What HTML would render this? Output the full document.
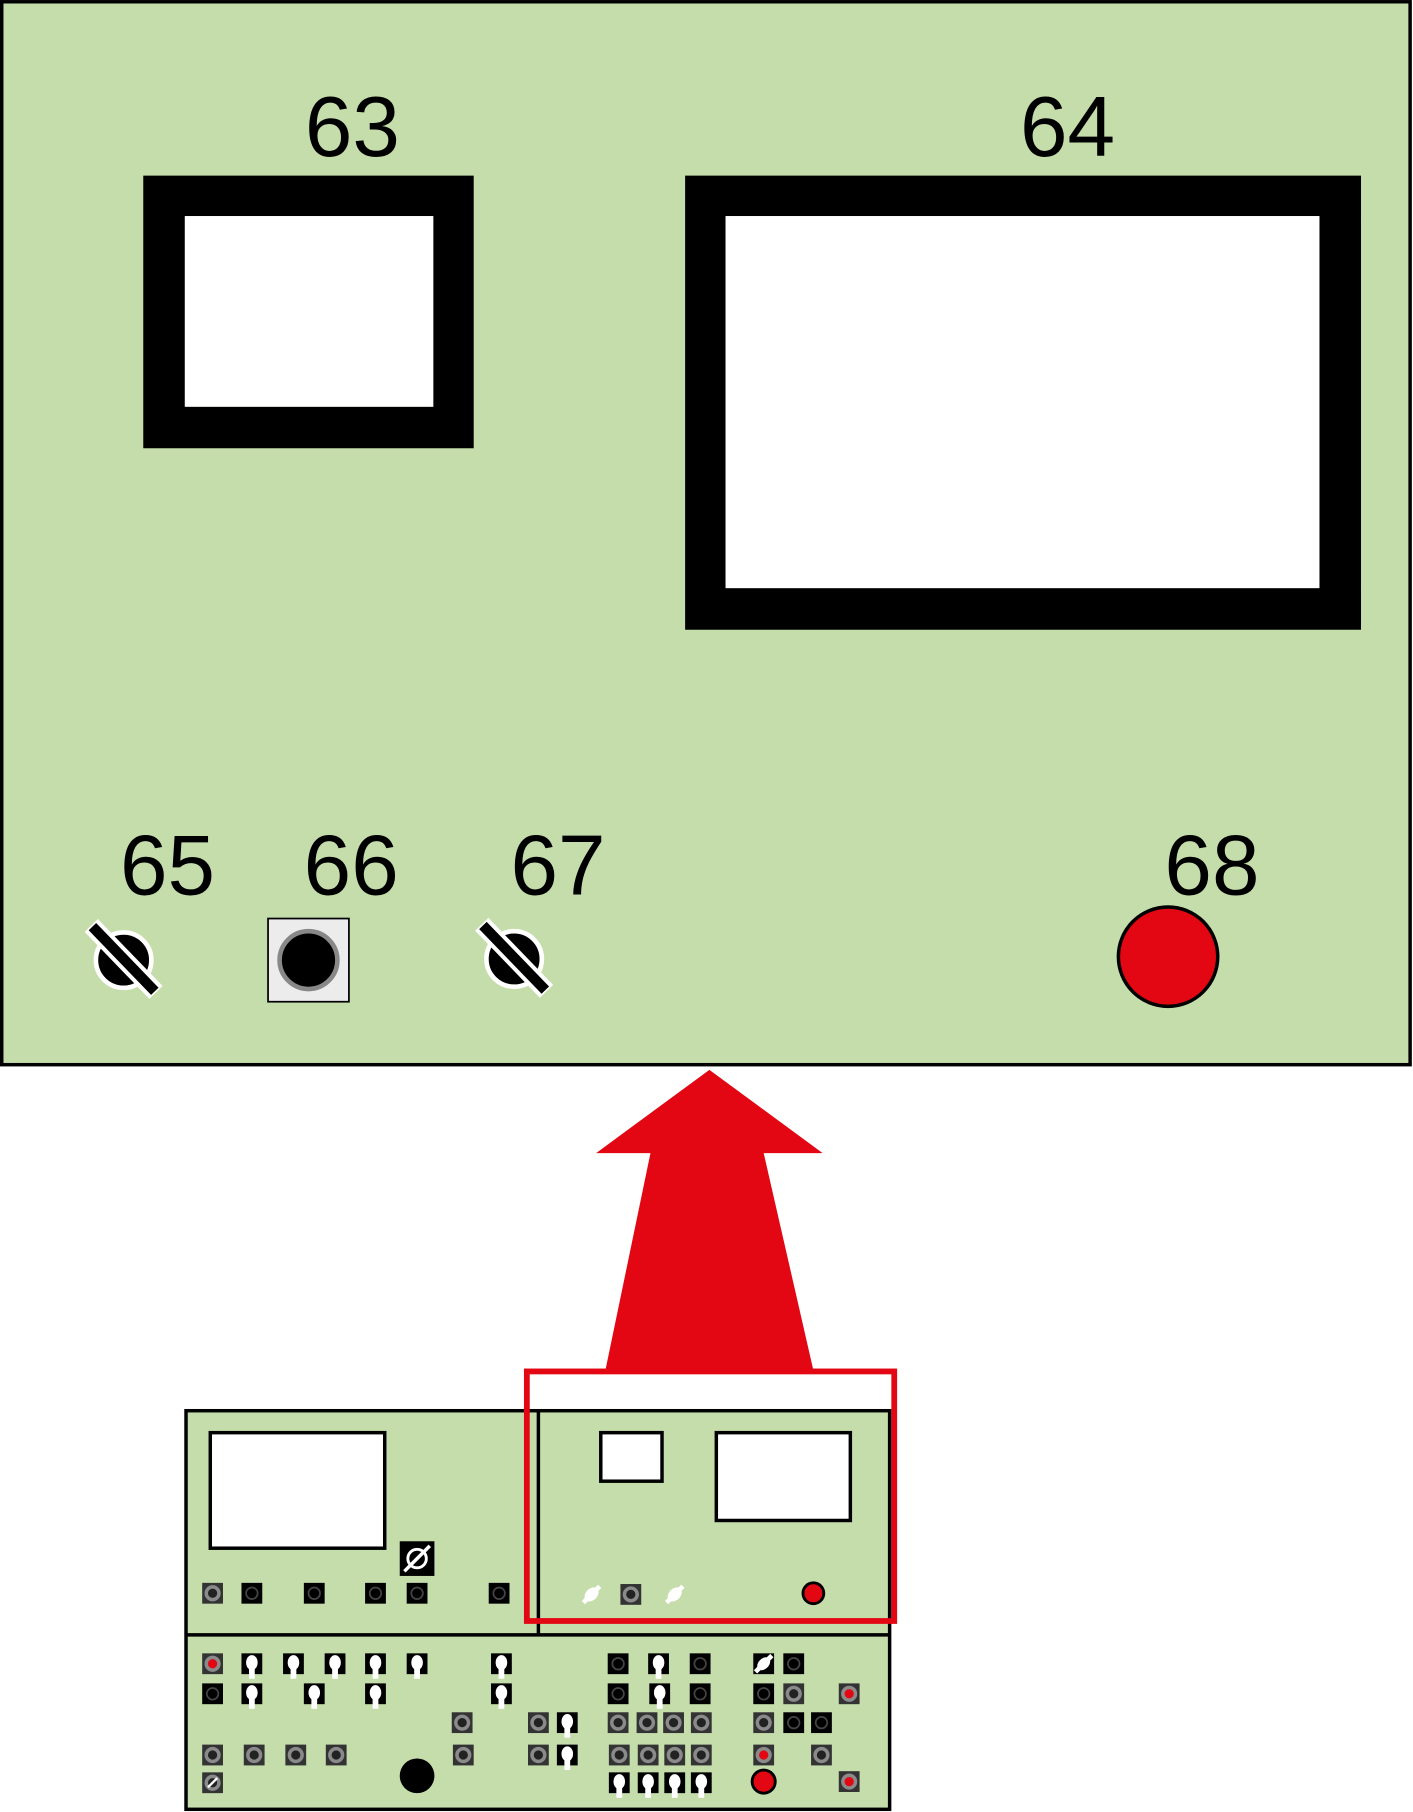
<!DOCTYPE html>
<html><head><meta charset="utf-8"><style>html,body{margin:0;padding:0;background:#fff}svg{display:block}</style></head>
<body>
<svg width="1413" height="1812" viewBox="0 0 1223 1568.3" xmlns="http://www.w3.org/2000/svg">
<defs>
<g id="G"><rect x="-9" y="-9" width="18" height="18" fill="#333"/><circle r="5.5" fill="#222" stroke="#8a8a8a" stroke-width="3"/></g>
<g id="R"><rect x="-9" y="-9" width="18" height="18" fill="#333"/><circle r="5.5" fill="#e30613" stroke="#8a8a8a" stroke-width="3"/></g>
<g id="B"><rect x="-9" y="-9" width="18" height="18" fill="#000"/><circle r="5" fill="none" stroke="#444" stroke-width="1.5"/></g>
<g id="T"><rect x="-9" y="-9" width="18" height="18" fill="#000"/><ellipse cx="0" cy="-1" rx="5" ry="6.5" fill="#fff"/><rect x="-2.5" y="3" width="5" height="10" fill="#fff"/></g>
<g id="K"><circle r="6" fill="#fff"/><line x1="-7" y1="-7" x2="7" y2="7" stroke="#fff" stroke-width="6"/></g>
</defs>
<!-- top panel -->
<rect x="1.5" y="1.5" width="1219" height="920" fill="#c5ddab" stroke="#000" stroke-width="3"/>
<path d="M124 152H410V388H124Z M160 187V352H375V187Z" fill="#000" fill-rule="evenodd"/>
<rect x="160" y="187" width="215" height="165" fill="#fff"/>
<path d="M593 152H1178V545H593Z M628 187V509H1142V187Z" fill="#000" fill-rule="evenodd"/>
<rect x="628" y="187" width="514" height="322" fill="#fff"/>
<g font-family="Liberation Sans, sans-serif" font-size="74" text-anchor="middle" fill="#000">
<text x="305" y="135">63</text><text x="924" y="135">64</text>
<text x="145" y="774">65</text><text x="304" y="774">66</text><text x="483" y="774">67</text><text x="1049" y="774">68</text>
</g>
<!-- 65 -->
<g transform="translate(107,831)"><circle r="24" fill="#000" stroke="#fff" stroke-width="4"/><line x1="-28" y1="-30" x2="28" y2="28" stroke="#fff" stroke-width="16"/><line x1="-27" y1="-29" x2="27" y2="27" stroke="#000" stroke-width="9"/></g>
<g transform="translate(445,830)"><circle r="24" fill="#000" stroke="#fff" stroke-width="4"/><line x1="-28" y1="-30" x2="28" y2="28" stroke="#fff" stroke-width="16"/><line x1="-27" y1="-29" x2="27" y2="27" stroke="#000" stroke-width="9"/></g>
<rect x="232" y="795" width="70" height="72" fill="#ececec" stroke="#000" stroke-width="1.5"/>
<circle cx="267" cy="831" r="25" fill="#000" stroke="#888" stroke-width="4"/>
<circle cx="1011" cy="828" r="43" fill="#e30613" stroke="#000" stroke-width="3"/>
<!-- arrow -->
<path d="M614 926L712 998H661L704 1186H524L563 998H516Z" fill="#e30613"/>
<!-- bottom panel -->
<rect x="161" y="1221" width="609" height="345" fill="#c5ddab" stroke="#000" stroke-width="3"/>
<line x1="466" y1="1221" x2="466" y2="1415" stroke="#000" stroke-width="3"/>
<line x1="161" y1="1415" x2="770" y2="1415" stroke="#000" stroke-width="3"/>
<rect x="182" y="1240" width="151" height="100" fill="#fff" stroke="#000" stroke-width="3"/>
<rect x="520" y="1240" width="53" height="42" fill="#fff" stroke="#000" stroke-width="3"/>
<rect x="620" y="1240" width="116" height="76" fill="#fff" stroke="#000" stroke-width="3"/>
<rect x="346" y="1334" width="30" height="30" fill="#000"/>
<circle cx="361" cy="1349" r="8" fill="none" stroke="#fff" stroke-width="2.5"/><line x1="350" y1="1360" x2="372" y2="1338" stroke="#fff" stroke-width="3"/>
<use href="#G" x="184" y="1379"/><use href="#B" x="218" y="1379"/><use href="#B" x="272" y="1379"/><use href="#B" x="325" y="1379"/><use href="#B" x="361" y="1379"/><use href="#B" x="432" y="1379"/>
<g transform="translate(512,1380) rotate(45)"><ellipse rx="5" ry="7" fill="#fff"/><rect x="-2" y="-10" width="4" height="20" fill="#fff"/></g>
<use href="#G" x="546" y="1380"/>
<g transform="translate(584,1380) rotate(45)"><ellipse rx="5" ry="7" fill="#fff"/><rect x="-2" y="-10" width="4" height="20" fill="#fff"/></g>
<circle cx="704" cy="1379" r="9" fill="#e30613" stroke="#000" stroke-width="2.5"/>
<!-- row1 -->
<use href="#R" x="184" y="1440"/><use href="#T" x="218" y="1440"/><use href="#T" x="254" y="1440"/><use href="#T" x="290" y="1440"/><use href="#T" x="325" y="1440"/><use href="#T" x="361" y="1440"/><use href="#T" x="434" y="1440"/>
<use href="#B" x="535" y="1440"/><use href="#T" x="570" y="1440"/><use href="#B" x="606" y="1440"/>
<rect x="652" y="1431" width="18" height="18" fill="#000"/><g transform="translate(661,1440) rotate(45)"><ellipse rx="4.5" ry="6.5" fill="#fff"/><rect x="-2" y="-10" width="4" height="20" fill="#fff"/></g>
<use href="#B" x="687" y="1440"/>
<!-- row2 -->
<use href="#B" x="184" y="1466"/><use href="#T" x="218" y="1466"/><use href="#T" x="272" y="1466"/><use href="#T" x="325" y="1466"/><use href="#T" x="434" y="1466"/>
<use href="#B" x="535" y="1466"/><use href="#T" x="571" y="1466"/><use href="#B" x="606" y="1466"/><use href="#B" x="661" y="1466"/><use href="#G" x="687" y="1466"/><use href="#R" x="735" y="1466"/>
<!-- row3 -->
<use href="#G" x="400" y="1491"/><use href="#G" x="466" y="1491"/><use href="#T" x="491" y="1491"/>
<use href="#G" x="535" y="1491"/><use href="#G" x="560" y="1491"/><use href="#G" x="583" y="1491"/><use href="#G" x="607" y="1491"/>
<use href="#G" x="661" y="1491"/><use href="#B" x="687" y="1491"/><use href="#B" x="711" y="1491"/>
<!-- row4 -->
<use href="#G" x="184" y="1519"/><use href="#G" x="220" y="1519"/><use href="#G" x="256" y="1519"/><use href="#G" x="291" y="1519"/>
<use href="#G" x="401" y="1519"/><use href="#G" x="466" y="1519"/><use href="#T" x="491" y="1519"/>
<use href="#G" x="536" y="1519"/><use href="#G" x="561" y="1519"/><use href="#G" x="584" y="1519"/><use href="#G" x="607" y="1519"/>
<use href="#R" x="661" y="1519"/><use href="#G" x="711" y="1519"/>
<!-- row5 -->
<rect x="175" y="1534" width="18" height="18" fill="#333"/><circle cx="184" cy="1543" r="5.5" fill="#222" stroke="#8a8a8a" stroke-width="3"/><line x1="180" y1="1547" x2="188" y2="1539" stroke="#fff" stroke-width="2"/>
<ellipse cx="361" cy="1537" rx="15" ry="15" fill="#000"/>
<use href="#T" x="536" y="1543"/><use href="#T" x="561" y="1543"/><use href="#T" x="584" y="1543"/><use href="#T" x="607" y="1543"/>
<circle cx="661" cy="1542" r="10" fill="#e30613" stroke="#000" stroke-width="2.5"/>
<use href="#R" x="735" y="1542"/>
<!-- red highlight -->
<rect x="456" y="1187" width="318" height="216" fill="none" stroke="#e30613" stroke-width="5"/>
</svg>
</body></html>
